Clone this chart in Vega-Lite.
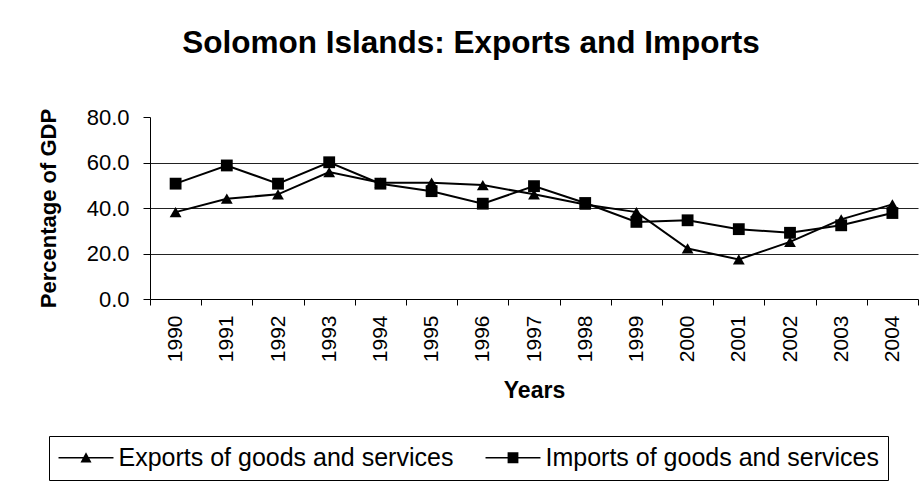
{
  "$schema": "https://vega.github.io/schema/vega-lite/v6.json",
  "autosize": {"type": "none"},
  "width": 768,
  "height": 182,
  "padding": {"left": 150, "top": 117, "right": 5, "bottom": 183},
  "background": "white",
  "title": {
    "text": "Solomon Islands: Exports and Imports",
    "font": "Liberation Sans",
    "fontSize": 31.5,
    "fontWeight": "bold",
    "color": "black",
    "anchor": "middle",
    "frame": "group",
    "dx": -63,
    "offset": 47
  },
  "config": {
    "view": {"stroke": null},
    "axis": {
      "labelFont": "Liberation Sans",
      "titleFont": "Liberation Sans",
      "labelColor": "black",
      "titleColor": "black",
      "domainColor": "black",
      "tickColor": "black",
      "domainWidth": 1,
      "tickWidth": 1
    },
    "legend": {"labelFont": "Liberation Sans"}
  },
  "data": {
    "values": [
      {"Year": "1990", "Series": "Exports of goods and services", "Value": 38.2},
      {"Year": "1991", "Series": "Exports of goods and services", "Value": 44.1},
      {"Year": "1992", "Series": "Exports of goods and services", "Value": 46.0},
      {"Year": "1993", "Series": "Exports of goods and services", "Value": 55.8},
      {"Year": "1994", "Series": "Exports of goods and services", "Value": 51.1},
      {"Year": "1995", "Series": "Exports of goods and services", "Value": 51.1},
      {"Year": "1996", "Series": "Exports of goods and services", "Value": 50.1},
      {"Year": "1997", "Series": "Exports of goods and services", "Value": 46.0},
      {"Year": "1998", "Series": "Exports of goods and services", "Value": 41.5},
      {"Year": "1999", "Series": "Exports of goods and services", "Value": 38.2},
      {"Year": "2000", "Series": "Exports of goods and services", "Value": 22.2},
      {"Year": "2001", "Series": "Exports of goods and services", "Value": 17.4},
      {"Year": "2002", "Series": "Exports of goods and services", "Value": 25.1},
      {"Year": "2003", "Series": "Exports of goods and services", "Value": 35.0},
      {"Year": "2004", "Series": "Exports of goods and services", "Value": 41.6},
      {"Year": "1990", "Series": "Imports of goods and services", "Value": 50.7},
      {"Year": "1991", "Series": "Imports of goods and services", "Value": 58.7},
      {"Year": "1992", "Series": "Imports of goods and services", "Value": 50.7},
      {"Year": "1993", "Series": "Imports of goods and services", "Value": 60.1},
      {"Year": "1994", "Series": "Imports of goods and services", "Value": 50.7},
      {"Year": "1995", "Series": "Imports of goods and services", "Value": 47.4},
      {"Year": "1996", "Series": "Imports of goods and services", "Value": 41.9},
      {"Year": "1997", "Series": "Imports of goods and services", "Value": 49.6},
      {"Year": "1998", "Series": "Imports of goods and services", "Value": 42.2},
      {"Year": "1999", "Series": "Imports of goods and services", "Value": 33.9},
      {"Year": "2000", "Series": "Imports of goods and services", "Value": 34.6},
      {"Year": "2001", "Series": "Imports of goods and services", "Value": 30.7},
      {"Year": "2002", "Series": "Imports of goods and services", "Value": 29.1},
      {"Year": "2003", "Series": "Imports of goods and services", "Value": 32.4},
      {"Year": "2004", "Series": "Imports of goods and services", "Value": 37.8}
    ]
  },
  "encoding": {
    "x": {
      "field": "Year",
      "type": "ordinal",
      "scale": {"type": "band", "paddingInner": 0, "paddingOuter": 0},
      "axis": {
        "title": "Years",
        "titleFontSize": 23,
        "titleFontWeight": "bold",
        "titlePadding": 18,
        "labelAngle": 270,
        "labelFontSize": 21,
        "labelPadding": 10,
        "tickSize": 6,
        "tickBand": "extent",
        "grid": false
      }
    },
    "y": {
      "field": "Value",
      "type": "quantitative",
      "scale": {"domain": [0, 80], "nice": false},
      "axis": {
        "title": "Percentage of GDP",
        "titleFontSize": 22,
        "titleFontWeight": "bold",
        "titlePadding": 26,
        "values": [0, 20, 40, 60, 80],
        "format": ".1f",
        "labelFontSize": 22,
        "labelPadding": 14,
        "tickSize": 7,
        "grid": true,
        "gridColor": {"condition": {"test": "datum.value === 80 || datum.value === 0", "value": "transparent"}, "value": "#222"},
        "gridWidth": 1
      }
    }
  },
  "layer": [
    {
      "mark": {"type": "line", "color": "black", "strokeWidth": 2},
      "encoding": {"detail": {"field": "Series", "type": "nominal"}}
    },
    {
      "mark": {"type": "point", "filled": true, "fill": "black", "opacity": 1, "size": 0},
      "encoding": {
        "shape": {
          "field": "Series",
          "type": "nominal",
          "scale": {"range": [
            "M-2.29,-0.0625L2.29,-0.0625L2.29,0.0625L-2.29,0.0625ZM-0.46,0.4L0,-0.46L0.46,0.4Z",
            "M-2.29,-0.0625L2.29,-0.0625L2.29,0.0625L-2.29,0.0625ZM-0.45,-0.45L0.45,-0.45L0.45,0.45L-0.45,0.45Z"
          ]},
          "legend": {
            "title": null,
            "orient": "none",
            "legendX": -101,
            "legendY": 319,
            "direction": "horizontal",
            "columns": 2,
            "labelFontSize": 25,
            "labelColor": "black",
            "labelLimit": 0,
            "labelOffset": 20,
            "symbolOffset": 15.5,
            "columnPadding": 31,
            "padding": 9,
            "strokeColor": "black",
            "fillColor": "white",
            "symbolSize": 576,
            "symbolStrokeWidth": 0,
            "symbolFillColor": "black",
            "symbolOpacity": 1
          }
        }
      }
    },
    {
      "mark": {"type": "point", "filled": true, "color": "black", "opacity": 1, "size": 140},
      "encoding": {
        "shape": {
          "field": "Series",
          "type": "nominal",
          "scale": {"range": ["triangle-up", "square"]},
          "legend": null
        }
      }
    }
  ],
  "resolve": {"scale": {"shape": "independent"}, "legend": {"shape": "independent"}}
}
